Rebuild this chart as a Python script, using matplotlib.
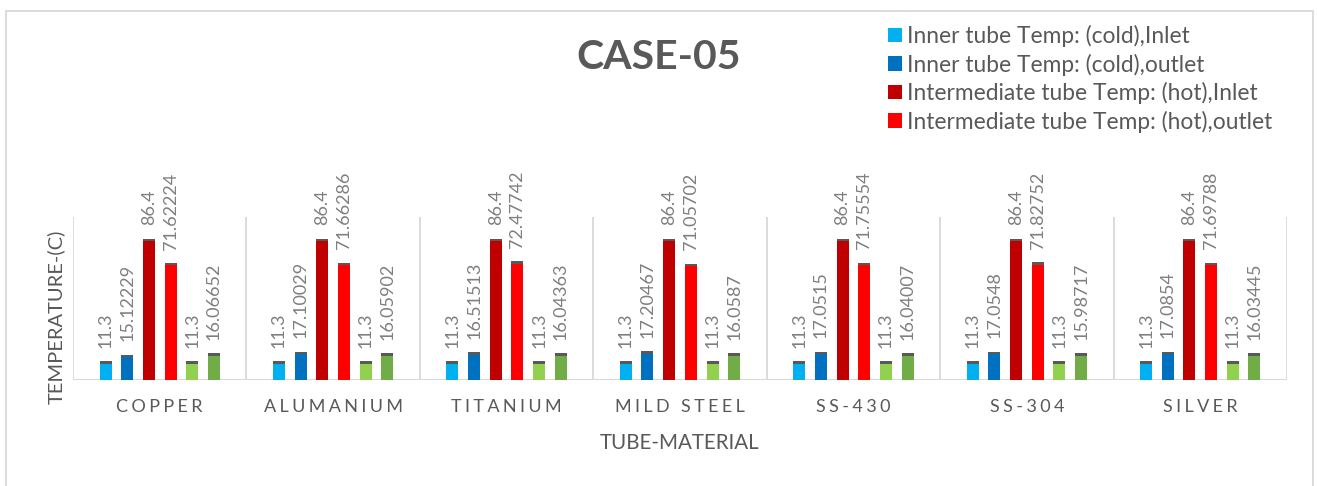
import matplotlib
matplotlib.use("Agg")
import matplotlib.pyplot as plt
from matplotlib.patches import Patch, Rectangle
import numpy as np

plt.rcParams['font.family'] = ['Lato', 'DejaVu Sans']

materials = ["COPPER", "ALUMANIUM", "TITANIUM", "MILD STEEL", "SS-430", "SS-304", "SILVER"]
series_names = [
    "Inner tube Temp: (cold),Inlet",
    "Inner tube Temp: (cold),outlet",
    "Intermediate tube Temp: (hot),Inlet",
    "Intermediate tube Temp: (hot),outlet",
    "Outer tube Temp: (cold),Inlet",
    "Outer tube Temp: (cold),outlet",
]
inner_inlet = [11.3, 11.3, 11.3, 11.3, 11.3, 11.3, 11.3]
inner_outlet = [15.12229, 17.10029, 16.51513, 17.20467, 17.0515, 17.0548, 17.0854]
inter_inlet = [86.4, 86.4, 86.4, 86.4, 86.4, 86.4, 86.4]
inter_outlet = [71.62224, 71.66286, 72.47742, 71.05702, 71.75554, 71.82752, 71.69788]
outer_inlet = [11.3, 11.3, 11.3, 11.3, 11.3, 11.3, 11.3]
outer_outlet = [16.06652, 16.05902, 16.04363, 16.0587, 16.04007, 15.98717, 16.03445]

series = [inner_inlet, inner_outlet, inter_inlet, inter_outlet, outer_inlet, outer_outlet]
colors = ["#00B0F0", "#0070C0", "#C00000", "#FF0000", "#92D050", "#70AD47"]

W, H = 1317, 486
fig = plt.figure(figsize=(W / 100, H / 100), dpi=100)
fig.patch.set_facecolor("white")

# outer chart frame
fig.patches.append(Rectangle((6 / W, -0.05), (1313 - 6) / W, 1 - 11 / H + 0.05,
                             transform=fig.transFigure, fill=False,
                             edgecolor="#D9D9D9", linewidth=1.3))

ax = fig.add_axes([73 / W, 1 - 380 / H, (1287 - 73) / W, (380 - 217.2) / H])
ax.set_xlim(-0.5, len(materials) - 0.5)
ax.set_ylim(0, 100)
for s in ax.spines.values():
    s.set_visible(False)
ax.set_xticks([])
ax.set_yticks([])

grid_c = "#D9D9D9"
bounds = np.arange(len(materials) + 1) - 0.5
ax.vlines(bounds, 0, 100, color=grid_c, linewidth=1.3, zorder=1)
ax.axhline(0, color=grid_c, linewidth=1.5, zorder=1)

x = np.arange(len(materials))
step = 0.125
bw = 0.069
cap_c = "#595959"
for i, (vals, col) in enumerate(zip(series, colors)):
    xs = x + (i - 2.5) * step
    vals = np.asarray(vals)
    ax.bar(xs, vals, width=bw, color=col, zorder=2)
    ax.bar(xs, 1.6, width=bw, bottom=vals - 1.2, color=cap_c, zorder=3)
    for xi, v in zip(xs, vals):
        ax.annotate(f"{v}", (xi, v), xytext=(0, 10), textcoords="offset points",
                    rotation=90, ha="center", va="bottom", fontsize=13,
                    color="#7F7F7F", zorder=4)

def spaced(s):
    return "\u2009\u200a".join(s)

for xi, name in zip(x, materials):
    ax.text(xi, -0.166, spaced(name), transform=ax.get_xaxis_transform(),
            ha="center", va="center", fontsize=13, color="#595959")

fig.text(680 / W, 1 - 443 / H, "TUBE-MATERIAL", ha="center", va="center",
         fontsize=14.8, color="#595959")
fig.text(56 / W, 1 - 317 / H, "TEMPERATURE-(C)", ha="center", va="center",
         rotation=90, fontsize=14.5, color="#595959")

fig.text(659 / W, 1 - 57.5 / H, "CASE-05", ha="center", va="center",
         fontsize=29.5, fontweight="bold", color="#595959")

handles = [Patch(facecolor=c, edgecolor="none") for c in colors[:4]]
leg = fig.legend(handles, series_names[:4], loc="upper left",
                 bbox_to_anchor=(888 / W, 1 - 25 / H), frameon=False,
                 fontsize=16.4, handlelength=0.6, handleheight=0.6,
                 handletextpad=0.25, labelspacing=0.28, borderpad=0, borderaxespad=0)
for t in leg.get_texts():
    t.set_color("#595959")

fig.savefig("out.png", dpi=100)
